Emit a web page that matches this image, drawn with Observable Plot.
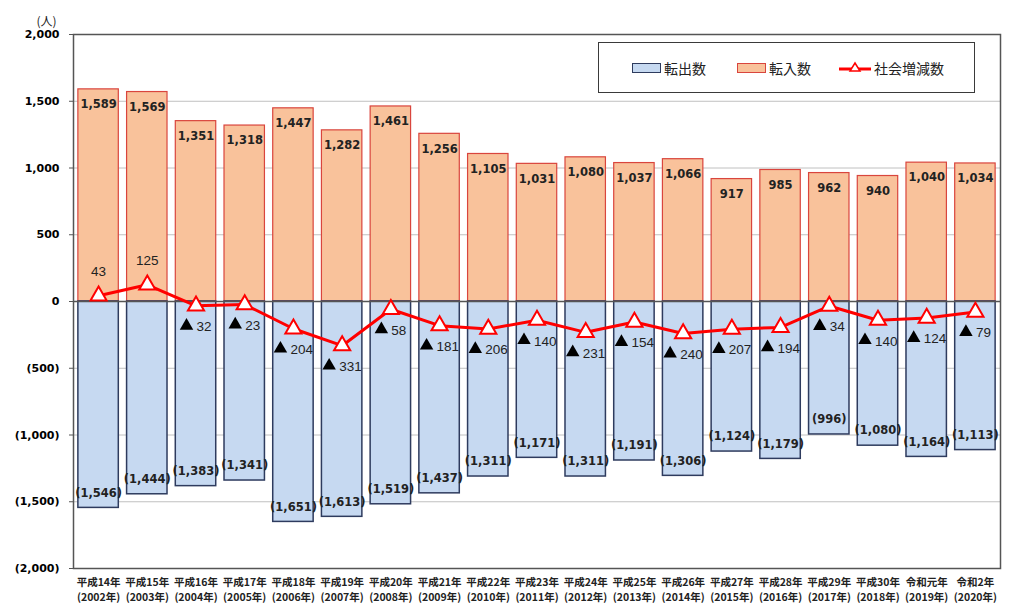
<!DOCTYPE html>
<html><head><meta charset="utf-8">
<script src="https://cdn.jsdelivr.net/npm/d3@7"></script>
<script src="https://cdn.jsdelivr.net/npm/@observablehq/plot@0.6"></script>
<style>
body{margin:0;background:#fff;}
#wrap{position:relative;width:1011px;height:605px;overflow:hidden;}
.legend{position:absolute;left:598px;top:42px;width:375px;height:49px;border:1.5px solid #3a3a3a;background:#fff;font-family:"Noto Sans CJK JP",sans-serif;font-size:14px;color:#222;}
.legend .it{position:absolute;top:0;height:49px;display:flex;align-items:center;}
.sw{display:inline-block;width:27px;height:8px;margin-right:3px;}
</style></head><body><div id="wrap"></div>
<script>
const eras = ["平成14年","平成15年","平成16年","平成17年","平成18年","平成19年","平成20年","平成21年","平成22年","平成23年","平成24年","平成25年","平成26年","平成27年","平成28年","平成29年","平成30年","令和元年","令和2年"];
const years = ["(2002年)","(2003年)","(2004年)","(2005年)","(2006年)","(2007年)","(2008年)","(2009年)","(2010年)","(2011年)","(2012年)","(2013年)","(2014年)","(2015年)","(2016年)","(2017年)","(2018年)","(2019年)","(2020年)"];
const inflow = [1589,1569,1351,1318,1447,1282,1461,1256,1105,1031,1080,1037,1066,917,985,962,940,1040,1034];
const outflow = [1546,1444,1383,1341,1651,1613,1519,1437,1311,1171,1311,1191,1306,1124,1179,996,1080,1164,1113];
const net = [43,125,-32,-23,-204,-331,-58,-181,-206,-140,-231,-154,-240,-207,-194,-34,-140,-124,-79];
const yTicks = [-2000,-1500,-1000,-500,0,500,1000,1500,2000];

const cats = eras.map((e,i)=> e + "\n" + years[i]);
const rows = cats.map((c,i)=>({cat:c, inflow:inflow[i], outflow:-outflow[i], net:net[i]}));
const fmt = d3.format(",");
const yFmt = d => d < 0 ? `(${fmt(-d)})` : fmt(d);

const pos = rows.filter(d => d.net >= 0);
const neg2 = rows.filter(d => d.net < 0 && -d.net < 100);
const neg3 = rows.filter(d => d.net < 0 && -d.net >= 100);
const labelFont = {fontSize: 13.5, fontFamily: "Liberation Sans, Arial, sans-serif", fill: "#222"};

const chart = Plot.plot({
  width: 1011, height: 605,
  marginTop: 34, marginBottom: 37, marginLeft: 73, marginRight: 11,
  style: {fontFamily: "DejaVu Sans, sans-serif", background: "#fff", overflow: "visible"},
  x: {domain: cats, paddingInner: 0.17, paddingOuter: 0.1, round: false, label: null},
  y: {domain: [-2000, 2000], label: null},
  marks: [
    Plot.gridY(yTicks, {stroke: "#c0c0c0", strokeOpacity: 1, strokeWidth: 1}),
    Plot.barY(rows, {x: "cat", y1: 0, y2: "inflow", fill: "#F9C29B", stroke: "#D9453D", strokeWidth: 1.2}),
    Plot.barY(rows, {x: "cat", y1: 0, y2: "outflow", fill: "#C6D9F1", stroke: "#2E3B5E", strokeWidth: 1.5}),
    Plot.ruleY([0], {stroke: "#555", strokeWidth: 1.5}),
    Plot.text(rows, {x: "cat", y: "inflow", text: d => fmt(d.inflow), dy: 15, fontWeight: "bold", fontSize: 11.5, fill: "#222"}),
    Plot.text(rows, {x: "cat", y: "outflow", text: d => yFmt(d.outflow), dy: -15, fontWeight: "bold", fontSize: 11.5, fill: "#222"}),
    Plot.line(rows, {x: "cat", y: "net", stroke: "#FF0000", strokeWidth: 3}),
    Plot.dot(rows, {x: "cat", y: "net", symbol: "triangle", r: 6, fill: "#fff", stroke: "#FF0000", strokeWidth: 2}),
    Plot.text(pos, {x: "cat", y: "net", text: d => String(d.net), dy: -24, ...labelFont}),
    Plot.dot(neg2, {x: "cat", y: "net", symbol: "triangle", r: 5, fill: "#000", dx: -9.5, dy: 20}),
    Plot.text(neg2, {x: "cat", y: "net", text: d => String(-d.net), dx: 0.5, dy: 21, textAnchor: "start", ...labelFont}),
    Plot.dot(neg3, {x: "cat", y: "net", symbol: "triangle", r: 5, fill: "#000", dx: -13, dy: 20}),
    Plot.text(neg3, {x: "cat", y: "net", text: d => String(-d.net), dx: -3, dy: 21, textAnchor: "start", ...labelFont}),
    Plot.frame({stroke: "#555", strokeWidth: 1.5}),
    Plot.axisY({ticks: yTicks, tickFormat: yFmt, tickSize: 4, tickPadding: 10, fontWeight: "bold", fontSize: 11, stroke: "#555"}),
    Plot.axisX({tickSize: 0, tickPadding: 6, fontWeight: "bold", fontSize: 10.5, lineHeight: 1.5, fontFamily: "Noto Sans CJK JP, sans-serif", fill: "#222"}),
    Plot.text([0], {frameAnchor: "top-left", text: () => "(人)", dx: -27, dy: -17, textAnchor: "middle", fontSize: 12, fontFamily: "Noto Sans CJK JP, sans-serif", fill: "#222"})
  ]
});
const wrap = document.getElementById("wrap");
wrap.appendChild(chart);

const legend = document.createElement("div");
legend.className = "legend";
legend.innerHTML = `
<div class="it" style="left:33px"><span class="sw" style="background:#C6D9F1;border:1.5px solid #2E3B5E"></span>転出数</div>
<div class="it" style="left:138px"><span class="sw" style="background:#F9C29B;border:1.5px solid #D9453D"></span>転入数</div>
<div class="it" style="left:240px"><svg width="32" height="14" style="margin-right:3px"><line x1="0" y1="8" x2="32" y2="8" stroke="#FF0000" stroke-width="3"/><path d="M16,2 L21,10 L11,10 Z" fill="#fff" stroke="#FF0000" stroke-width="1.5"/></svg>社会増減数</div>`;
wrap.appendChild(legend);
</script>
</body></html>
